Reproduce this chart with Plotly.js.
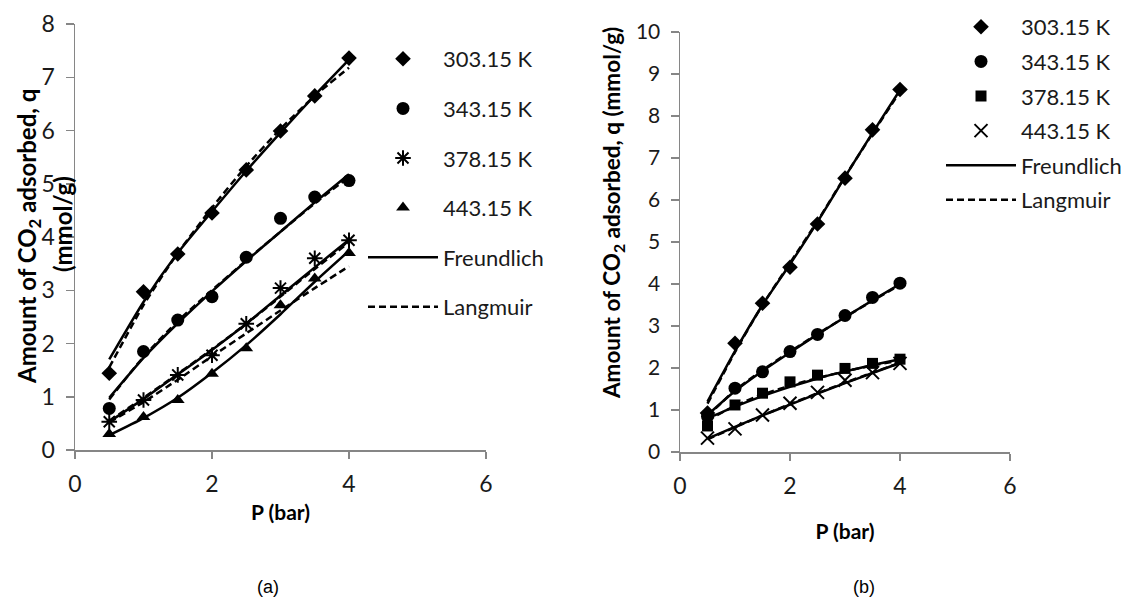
<!DOCTYPE html>
<html>
<head>
<meta charset="utf-8">
<script src="https://cdn.plot.ly/plotly-3.0.1.min.js"></script>
<style>html,body{margin:0;padding:0;background:#fff;}#chart{width:1139px;height:597px;}</style>
</head>
<body>
<div id="chart"></div>
<script>
// Pressure (bar)
const P = [0.5, 1, 1.5, 2, 2.5, 3, 3.5, 4];
const xTicks = [0, 2, 4, 6];
const tempLabels = ['303.15 K', '343.15 K', '378.15 K', '443.15 K'];
const fitLabels = ['Freundlich', 'Langmuir'];
const xTitle = 'P (bar)';
const yTitle = 'Amount of CO<sub>2</sub> adsorbed, q (mmol/g)';
const yTitleA1 = 'Amount of CO<sub>2</sub> adsorbed, q';
const yTitleA2 = '(mmol/g)';
const panelLabels = ['(a)', '(b)'];

// (a) experimental
const a303 = [1.44, 2.97, 3.68, 4.45, 5.26, 5.99, 6.65, 7.36];
const a343 = [0.78, 1.85, 2.44, 2.88, 3.62, 4.35, 4.75, 5.06];
const a378 = [0.53, 0.94, 1.41, 1.78, 2.37, 3.04, 3.60, 3.94];
const a443 = [0.30, 0.62, 0.94, 1.43, 1.91, 2.72, 3.22, 3.70];
// (a) Freundlich fits
const aF303 = [1.70, 2.78, 3.70, 4.48, 5.24, 5.96, 6.66, 7.33];
const aF343 = [0.98, 1.73, 2.38, 2.98, 3.55, 4.10, 4.65, 5.18];
const aF378 = [0.53, 0.96, 1.42, 1.88, 2.37, 2.90, 3.43, 3.95];
const aF443 = [0.28, 0.60, 0.98, 1.45, 1.97, 2.55, 3.16, 3.74];
// (a) Langmuir fits
const aL303 = [1.55, 2.72, 3.70, 4.55, 5.33, 6.03, 6.65, 7.18];
const aL343 = [0.95, 1.75, 2.42, 3.00, 3.56, 4.10, 4.63, 5.13];
const aL378 = [0.55, 0.98, 1.43, 1.89, 2.37, 2.88, 3.40, 3.90];
const aL443 = [0.52, 0.90, 1.32, 1.76, 2.19, 2.62, 3.04, 3.45];

// (b) experimental
const b303 = [0.93, 2.59, 3.54, 4.40, 5.43, 6.52, 7.67, 8.63];
const b343 = [0.85, 1.52, 1.91, 2.39, 2.80, 3.25, 3.68, 4.02];
const b378 = [0.62, 1.12, 1.40, 1.67, 1.83, 1.99, 2.11, 2.21];
const b443 = [0.33, 0.55, 0.88, 1.16, 1.42, 1.71, 1.89, 2.11];
// (b) Freundlich fits
const bF303 = [1.20, 2.40, 3.50, 4.47, 5.48, 6.55, 7.60, 8.62];
const bF343 = [0.88, 1.45, 1.93, 2.37, 2.80, 3.21, 3.61, 4.00];
const bF378 = [0.80, 1.08, 1.33, 1.55, 1.75, 1.92, 2.07, 2.21];
const bF443 = [0.32, 0.60, 0.87, 1.13, 1.39, 1.64, 1.88, 2.12];
// (b) Langmuir fits
const bL303 = [1.15, 2.38, 3.50, 4.50, 5.50, 6.56, 7.58, 8.58];
const bL343 = [0.85, 1.47, 1.95, 2.39, 2.81, 3.21, 3.60, 3.98];
const bL378 = [0.75, 1.10, 1.37, 1.58, 1.76, 1.92, 2.06, 2.18];
const bL443 = [0.30, 0.59, 0.87, 1.14, 1.40, 1.65, 1.89, 2.12];

const FONT = 'Lato, "Open Sans", sans-serif';
const BLACK = '#000000';
const AXIS = '#868686';

function fitTrace(y, xa, ya, dashed, name, show, leg, group) {
  return {x: P, y: y, xaxis: xa, yaxis: ya, mode: 'lines', type: 'scatter',
    line: {color: BLACK, width: 2.5, dash: dashed ? '7px,4px' : 'solid', shape: 'spline', smoothing: 0.6},
    name: name, showlegend: show, legend: leg, legendgroup: group, hoverinfo: 'skip'};
}
function dataTrace(y, xa, ya, symbol, size, name, leg, group, open) {
  return {x: P, y: y, xaxis: xa, yaxis: ya, mode: 'markers', type: 'scatter',
    marker: {symbol: symbol, size: size, color: BLACK, line: {color: BLACK, width: open ? 2 : 0}},
    name: name, legend: leg, legendgroup: group, showlegend: true};
}

const traces = [];
// panel (a)
const aData = [a303, a343, a378, a443];
const aF = [aF303, aF343, aF378, aF443];
const aL = [aL303, aL343, aL378, aL443];
const aSym = ['diamond', 'circle', 'asterisk-open', 'triangle-up'];
const aSize = [12, 13, 13, 12];
for (let i = 0; i < 4; i++) {
  traces.push(fitTrace(aF[i], 'x', 'y', false, fitLabels[0], i === 0, 'legend', 'aF'));
  traces.push(fitTrace(aL[i], 'x', 'y', true, fitLabels[1], i === 0, 'legend', 'aL'));
}
for (let i = 0; i < 4; i++) {
  traces.push(dataTrace(aData[i], 'x', 'y', aSym[i], aSize[i], tempLabels[i], 'legend', 'a' + i, aSym[i].indexOf('open') >= 0));
}
// panel (b)
const bData = [b303, b343, b378, b443];
const bF = [bF303, bF343, bF378, bF443];
const bL = [bL303, bL343, bL378, bL443];
const bSym = ['diamond', 'circle', 'square', 'x-thin-open'];
const bSize = [12, 13, 11, 13];
for (let i = 0; i < 4; i++) {
  traces.push(fitTrace(bF[i], 'x2', 'y2', false, fitLabels[0], i === 0, 'legend2', 'bF'));
  traces.push(fitTrace(bL[i], 'x2', 'y2', true, fitLabels[1], i === 0, 'legend2', 'bL'));
}
for (let i = 0; i < 4; i++) {
  traces.push(dataTrace(bData[i], 'x2', 'y2', bSym[i], bSize[i], tempLabels[i], 'legend2', 'b' + i, bSym[i].indexOf('open') >= 0));
}

// order legend items: temperatures first, then fits
const order = {a0:1,a1:2,a2:3,a3:4,aF:5,aL:6,b0:1,b1:2,b2:3,b3:4,bF:5,bL:6};
traces.forEach(t => { t.legendrank = order[t.legendgroup]; });

function xAxis(domain, anchor, tickSize, standoff) {
  return {domain: domain, anchor: anchor, range: [0, 6], tickvals: xTicks, showgrid: false, zeroline: false,
    showline: true, linecolor: AXIS, linewidth: 1.5, ticks: 'outside', ticklen: 7, tickcolor: AXIS, tickwidth: 1.5,
    tickfont: {family: FONT, size: tickSize, color: '#1a1a1a'}, ticklabelstandoff: 6,
    title: {text: '<b>' + xTitle + '</b>', font: {family: FONT, size: 21, color: BLACK}, standoff: standoff}};
}
function yAxis(domain, anchor, range, dtick, tickSize) {
  return {domain: domain, anchor: anchor, range: range, dtick: dtick, showgrid: false, zeroline: false,
    showline: true, linecolor: AXIS, linewidth: 1.5, ticks: 'outside', ticklen: 8, tickcolor: AXIS, tickwidth: 1.5,
    tickfont: {family: FONT, size: tickSize, color: '#1a1a1a'}, ticklabelstandoff: 6};
}

const W = 1139, H = 597;
const layout = {
  width: W, height: H, margin: {l: 0, r: 0, t: 0, b: 0}, paper_bgcolor: '#fff', plot_bgcolor: '#fff',
  xaxis: xAxis([75 / W, 486 / W], 'y', 23, 9),
  yaxis: yAxis([1 - 450 / H, 1 - 24 / H], 'x', [0, 8], 1, 23),
  xaxis2: xAxis([680 / W, 1010 / W], 'y2', 23, 26),
  yaxis2: yAxis([1 - 452 / H, 1 - 32 / H], 'x2', [0, 10], 1, 21),
  legend: {x: 363 / W, y: 1 - 38 / H, xanchor: 'left', yanchor: 'top', bgcolor: 'rgba(0,0,0,0)',
    font: {family: FONT, size: 22, color: '#1a1a1a'}, itemwidth: 70, tracegroupgap: 18, traceorder: 'grouped'},
  legend2: {x: 941 / W, y: 1 - 6 / H, xanchor: 'left', yanchor: 'top', bgcolor: 'rgba(0,0,0,0)',
    font: {family: FONT, size: 22, color: '#1a1a1a'}, itemwidth: 70, tracegroupgap: 3, traceorder: 'grouped'},
  annotations: [
    {text: '<b>' + yTitleA1 + '</b>', xref: 'paper', yref: 'paper', x: 28 / W, y: 1 - 237 / H, showarrow: false,
      textangle: -90, font: {family: FONT, size: 24, color: BLACK}, xanchor: 'center', yanchor: 'middle'},
    {text: '<b>' + yTitleA2 + '</b>', xref: 'paper', yref: 'paper', x: 63 / W, y: 1 - 224 / H, showarrow: false,
      textangle: -90, font: {family: FONT, size: 24, color: BLACK}, xanchor: 'center', yanchor: 'middle'},
    {text: '<b>' + yTitle + '</b>', xref: 'paper', yref: 'paper', x: 613 / W, y: 1 - 213 / H, showarrow: false,
      textangle: -90, font: {family: FONT, size: 22.5, color: BLACK}, xanchor: 'center', yanchor: 'middle'},
    {text: panelLabels[0], xref: 'paper', yref: 'paper', x: 268 / W, y: 1 - 587 / H, showarrow: false,
      font: {family: '"Liberation Sans", Arial, sans-serif', size: 18, color: BLACK}, xanchor: 'center', yanchor: 'middle'},
    {text: panelLabels[1], xref: 'paper', yref: 'paper', x: 864 / W, y: 1 - 587 / H, showarrow: false,
      font: {family: '"Liberation Sans", Arial, sans-serif', size: 18, color: BLACK}, xanchor: 'center', yanchor: 'middle'}
  ]
};

Plotly.newPlot('chart', traces, layout, {staticPlot: true, displayModeBar: false});
</script>
</body>
</html>
